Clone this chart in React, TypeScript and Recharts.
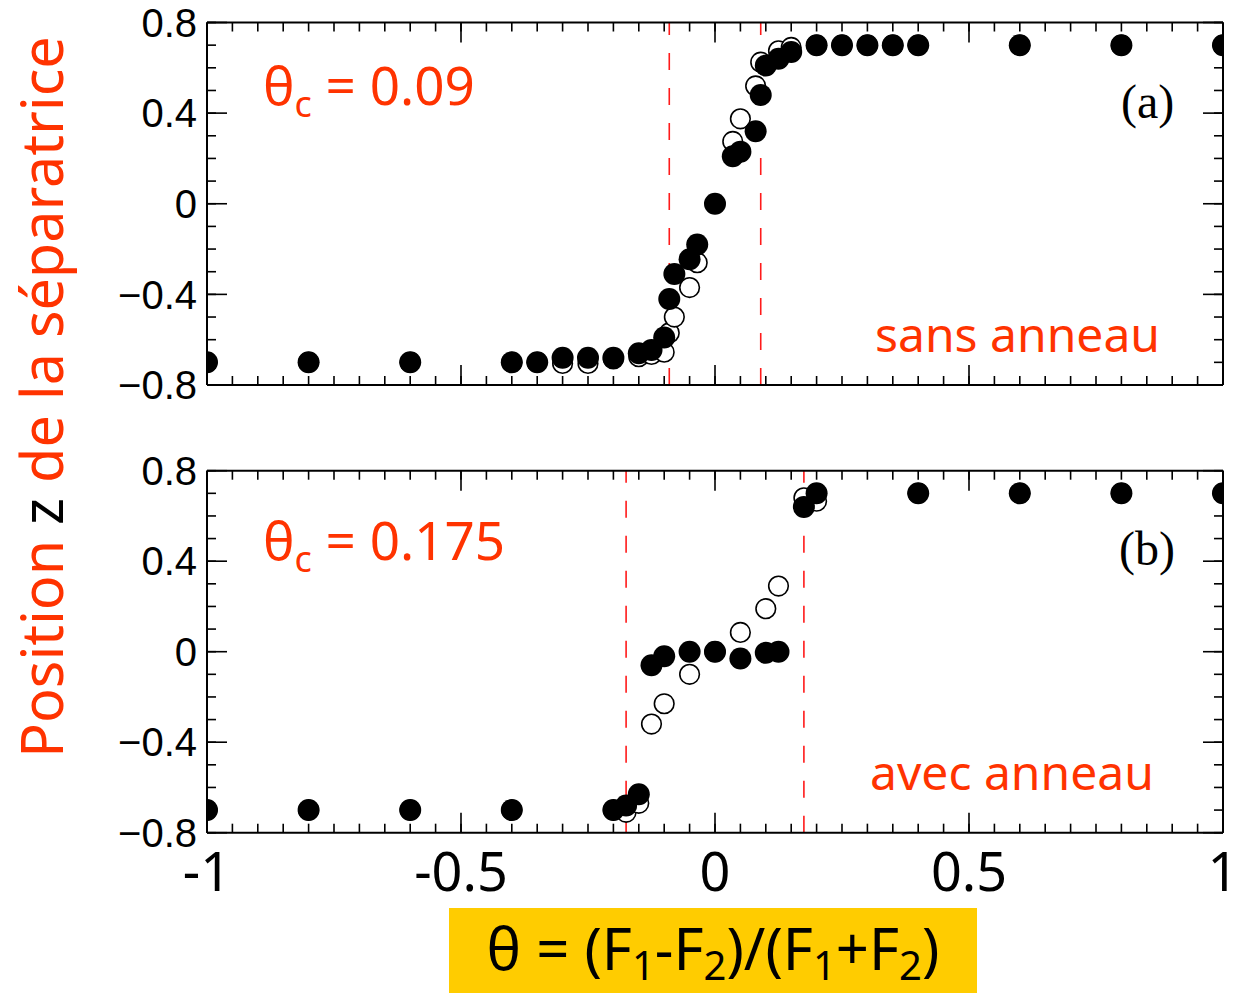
import React from 'react';
import { ScatterChart, Scatter, XAxis, YAxis, ReferenceLine } from 'recharts';

// ---- tick positions ----
const xMajorTicks = [-1, -0.5, 0, 0.5, 1];
const xMinorTicks = Array.from({ length: 41 }, (_, i) => (i - 20) / 20);
const yMajorTicks = [-0.8, -0.4, 0, 0.4, 0.8];
const yMinorTicks = Array.from({ length: 17 }, (_, i) => (i - 8) / 10);

// ---- panel (a): sans anneau ----
const thetaCritA = 0.09;
const aFilledX = [-1, -0.8, -0.6, -0.4, -0.35, -0.3, -0.25, -0.2, -0.15, -0.125, -0.1, -0.09, -0.08, -0.05, -0.035, 0, 0.035, 0.05, 0.08, 0.09, 0.1, 0.125, 0.15, 0.2, 0.25, 0.3, 0.35, 0.4, 0.6, 0.8, 1];
const aFilledY = [-0.7, -0.7, -0.7, -0.7, -0.7, -0.68, -0.68, -0.68, -0.66, -0.645, -0.59, -0.42, -0.31, -0.245, -0.18, 0, 0.21, 0.23, 0.32, 0.48, 0.61, 0.64, 0.67, 0.7, 0.7, 0.7, 0.7, 0.7, 0.7, 0.7, 0.7];
const aOpenX = [-1, -0.8, -0.6, -0.4, -0.35, -0.3, -0.25, -0.2, -0.15, -0.125, -0.1, -0.09, -0.08, -0.05, -0.035, 0.035, 0.05, 0.08, 0.09, 0.125, 0.15, 0.2, 0.25, 0.3, 0.35, 0.4, 0.6, 0.8, 1];
const aOpenY = [-0.7, -0.7, -0.7, -0.7, -0.7, -0.705, -0.705, -0.685, -0.675, -0.665, -0.655, -0.57, -0.5, -0.37, -0.26, 0.275, 0.375, 0.52, 0.625, 0.675, 0.69, 0.7, 0.7, 0.7, 0.7, 0.7, 0.7, 0.7, 0.7];

// ---- panel (b): avec anneau ----
const thetaCritB = 0.175;
const bFilledX = [-1, -0.8, -0.6, -0.4, -0.2, -0.175, -0.15, -0.125, -0.1, -0.05, 0, 0.05, 0.1, 0.125, 0.175, 0.2, 0.4, 0.6, 0.8, 1];
const bFilledY = [-0.7, -0.7, -0.7, -0.7, -0.7, -0.68, -0.63, -0.06, -0.02, 0, 0, -0.03, -0.005, 0, 0.64, 0.7, 0.7, 0.7, 0.7, 0.7];
const bOpenX = [-1, -0.8, -0.6, -0.4, -0.2, -0.175, -0.15, -0.125, -0.1, -0.05, 0, 0.05, 0.1, 0.125, 0.175, 0.2, 0.4, 0.6, 0.8, 1];
const bOpenY = [-0.7, -0.7, -0.7, -0.7, -0.7, -0.71, -0.67, -0.32, -0.23, -0.1, 0, 0.085, 0.19, 0.29, 0.68, 0.665, 0.7, 0.7, 0.7, 0.7];

const toPts = (xs: number[], ys: number[]) => xs.map((x, i) => ({ x, y: ys[i] }));

const ORANGE = '#ff3300';
const RED = '#ff1a1a';

const FilledDot = (p: any) => <circle cx={p.cx} cy={p.cy} r={11} fill="#000" />;
const OpenDot = (p: any) => (
  <circle cx={p.cx} cy={p.cy} r={9.8} fill="#fff" stroke="#000" strokeWidth={1.6} />
);

const yFmt = (v: number) => (v < 0 ? '\u2212' + Math.abs(v) : String(v));
const xFmt = (v: number) => String(v);
const noLabel = () => '';

const axisLineStyle = { stroke: '#000', strokeWidth: 2 };
const tickLineStyle = { stroke: '#000', strokeWidth: 1.6 };
const hiddenTick = { fontSize: 1, fill: 'none' };

function Panel({
  filled,
  open,
  crit,
  width,
  height,
  margin,
  showXLabels,
}: {
  filled: { x: number; y: number }[];
  open: { x: number; y: number }[];
  crit: number;
  width: number;
  height: number;
  margin: { top: number; right: number; bottom: number; left: number };
  showXLabels: boolean;
}) {
  const thin = 0.01;
  return (
    <ScatterChart width={width} height={height} margin={margin}>
      {/* main axes: major ticks inward, frame lines */}
      <XAxis xAxisId="x" dataKey="x" type="number" domain={[-1, 1]} ticks={xMajorTicks} interval={0}
        orientation="bottom" mirror height={thin} tick={hiddenTick} tickFormatter={noLabel} tickSize={20}
        axisLine={axisLineStyle} tickLine={tickLineStyle} allowDataOverflow />
      <YAxis yAxisId="y" dataKey="y" type="number" domain={[-0.8, 0.8]} ticks={yMajorTicks} interval={0}
        orientation="left" mirror width={thin} tick={hiddenTick} tickFormatter={noLabel} tickSize={20}
        axisLine={axisLineStyle} tickLine={tickLineStyle} allowDataOverflow />
      {/* minor ticks bottom / left */}
      <XAxis xAxisId="xm" dataKey="x" type="number" domain={[-1, 1]} ticks={xMinorTicks} interval={0}
        orientation="bottom" mirror height={thin} tick={hiddenTick} tickFormatter={noLabel} tickSize={9}
        axisLine={false} tickLine={tickLineStyle} allowDataOverflow />
      <YAxis yAxisId="ym" dataKey="y" type="number" domain={[-0.8, 0.8]} ticks={yMinorTicks} interval={0}
        orientation="left" mirror width={thin} tick={hiddenTick} tickFormatter={noLabel} tickSize={9}
        axisLine={false} tickLine={tickLineStyle} allowDataOverflow />
      {/* top axes */}
      <XAxis xAxisId="xt" dataKey="x" type="number" domain={[-1, 1]} ticks={xMajorTicks} interval={0}
        orientation="top" mirror height={thin} tick={hiddenTick} tickFormatter={noLabel} tickSize={20}
        axisLine={axisLineStyle} tickLine={tickLineStyle} allowDataOverflow />
      <XAxis xAxisId="xtm" dataKey="x" type="number" domain={[-1, 1]} ticks={xMinorTicks} interval={0}
        orientation="top" mirror height={thin} tick={hiddenTick} tickFormatter={noLabel} tickSize={9}
        axisLine={false} tickLine={tickLineStyle} allowDataOverflow />
      {/* right axes */}
      <YAxis yAxisId="yr" dataKey="y" type="number" domain={[-0.8, 0.8]} ticks={yMajorTicks} interval={0}
        orientation="right" mirror width={thin} tick={hiddenTick} tickFormatter={noLabel} tickSize={20}
        axisLine={axisLineStyle} tickLine={tickLineStyle} allowDataOverflow />
      <YAxis yAxisId="yrm" dataKey="y" type="number" domain={[-0.8, 0.8]} ticks={yMinorTicks} interval={0}
        orientation="right" mirror width={thin} tick={hiddenTick} tickFormatter={noLabel} tickSize={9}
        axisLine={false} tickLine={tickLineStyle} allowDataOverflow />
      {/* label axes */}
      <YAxis yAxisId="yl" dataKey="y" type="number" domain={[-0.8, 0.8]} ticks={yMajorTicks} interval={0}
        orientation="left" mirror width={thin} tickSize={0} tickMargin={-10}
        axisLine={false} tickLine={false} tickFormatter={yFmt}
        tick={{ fontSize: 40, fontFamily: 'Liberation Sans, Arial, sans-serif', fill: '#000', textAnchor: 'end' }}
        allowDataOverflow />
      {showXLabels && (
        <XAxis xAxisId="xl" dataKey="x" type="number" domain={[-1, 1]} ticks={xMajorTicks} interval={0}
          orientation="bottom" mirror height={thin} tickSize={0} tickMargin={-58}
          axisLine={false} tickLine={false} tickFormatter={xFmt}
          tick={{ fontSize: 54, fontFamily: 'Noto Sans, sans-serif', fill: '#000' }}
          allowDataOverflow />
      )}
      <ReferenceLine xAxisId="x" yAxisId="y" x={-crit} stroke={RED} strokeWidth={1.6} strokeDasharray="17 18" />
      <ReferenceLine xAxisId="x" yAxisId="y" x={crit} stroke={RED} strokeWidth={1.6} strokeDasharray="17 18" />
      <Scatter xAxisId="x" yAxisId="y" data={open} shape={OpenDot} isAnimationActive={false} />
      <Scatter xAxisId="x" yAxisId="y" data={filled} shape={FilledDot} isAnimationActive={false} />
    </ScatterChart>
  );
}

export default function App() {
  const annFont = 'Noto Sans, sans-serif';
  return (
    <div style={{ position: 'absolute', left: 0, top: 0, width: 1241, height: 993, background: '#fff', overflow: 'hidden' }}>
      <div style={{ position: 'absolute', left: 0, top: 0 }}>
        <Panel
          filled={toPts(aFilledX, aFilledY)}
          open={toPts(aOpenX, aOpenY)}
          crit={thetaCritA}
          width={1241}
          height={420}
          margin={{ top: 22.5, right: 18, bottom: 35, left: 207 }}
          showXLabels={false}
        />
      </div>
      <div style={{ position: 'absolute', left: 0, top: 448 }}>
        <Panel
          filled={toPts(bFilledX, bFilledY)}
          open={toPts(bOpenX, bOpenY)}
          crit={thetaCritB}
          width={1241}
          height={545}
          margin={{ top: 22.7, right: 18, bottom: 160.3, left: 207 }}
          showXLabels={true}
        />
      </div>
      <svg width={1241} height={993} style={{ position: 'absolute', left: 0, top: 0, pointerEvents: 'none' }}>
        <text transform="rotate(-90)" x={-397} y={63} textAnchor="middle" fontFamily={annFont} fontSize={57.5} fill={ORANGE}>
          {'Position '}
          <tspan fill="#000">z</tspan>
          {' de la séparatrice'}
        </text>

        <text x={263} y={105} fontFamily={annFont} fontSize={53} fill={ORANGE}>
          θ<tspan fontSize={36} dy={12}>c</tspan>
          <tspan dy={-12}>{' = 0.09'}</tspan>
        </text>
        <text x={263} y={560} fontFamily={annFont} fontSize={53} fill={ORANGE}>
          θ<tspan fontSize={36} dy={12}>c</tspan>
          <tspan dy={-12}>{' = 0.175'}</tspan>
        </text>

        <text x={875} y={352} fontFamily={annFont} fontSize={48} fill={ORANGE}>sans anneau</text>
        <text x={870} y={790} fontFamily={annFont} fontSize={48} fill={ORANGE}>avec anneau</text>

        <text x={1121} y={118} fontFamily="Liberation Serif, serif" fontSize={48} fill="#000">(a)</text>
        <text x={1119} y={565} fontFamily="Liberation Serif, serif" fontSize={48} fill="#000">(b)</text>

        <rect x={449} y={908} width={528} height={85} fill="#ffcc00" />
        <text x={713} y={970} textAnchor="middle" fontFamily={annFont} fontSize={58} fill="#000">
          {'θ = (F'}
          <tspan fontSize={40} dy={10}>1</tspan>
          <tspan dy={-10}>{'-F'}</tspan>
          <tspan fontSize={40} dy={10}>2</tspan>
          <tspan dy={-10}>{')/(F'}</tspan>
          <tspan fontSize={40} dy={10}>1</tspan>
          <tspan dy={-10}>{'+F'}</tspan>
          <tspan fontSize={40} dy={10}>2</tspan>
          <tspan dy={-10}>{')'}</tspan>
        </text>
      </svg>
    </div>
  );
}
